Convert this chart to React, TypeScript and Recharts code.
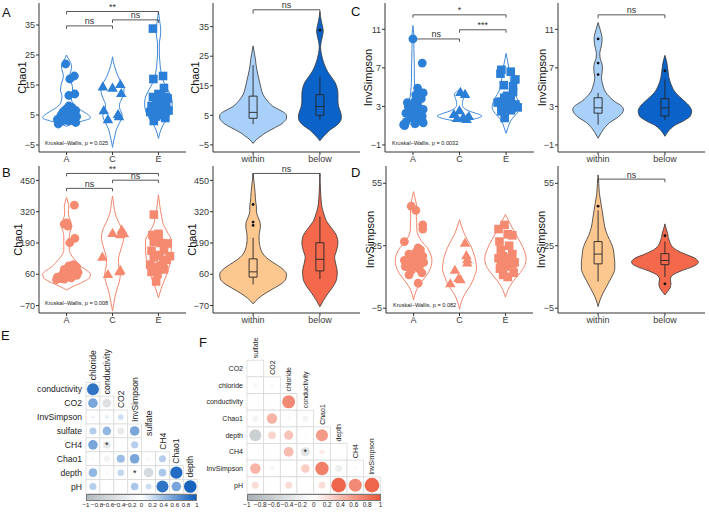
import React from 'react';
import {
  ComposedChart,
  ScatterChart,
  Area,
  Line,
  Scatter,
  XAxis,
  YAxis,
  ReferenceLine,
} from 'recharts';

const FONT = '"Liberation Sans", Arial, Helvetica, sans-serif';

const siteCats = ['A', 'C', 'E'];
const zoneCats = ['within', 'below'];

// ---- Chao1 by site (blue) ----
const chaoSiteA = [22, 18, 17, 12, 11.5, 8, 7.5, 7, 6.8, 6.5, 6, 6, 5.5, 5.2, 5, 5, 4.5, 4.5, 4, 4, 3.8, 3.5, 3.5, 3.2, 3, 3, 2.5, 2];
const chaoSiteAJit = [-0.02, 0.17, 0.07, 0.18, 0.05, 0.05, 0.12, 0.0, -0.02, 0.2, -0.08, 0.1, 0.15, 0.1, 0.03, -0.12, 0.22, 0.08, -0.15, -0.05, 0.12, -0.2, 0.18, 0.0, -0.1, 0.05, 0.2, -0.18];
const chaoSiteC = [15, 14.2, 13.8, 12, 6.3, 5, 4.3, 3.3];
const chaoSiteCJit = [0.17, -0.21, 0.0, 0.19, -0.19, 0.12, 0.14, -0.1];
const chaoSiteE = [33.8, 18, 17, 14, 12, 11.5, 11, 11, 10.5, 10, 9.5, 9, 8.5, 8, 7.5, 7, 6.5, 6, 6, 5.5, 5, 5, 4.5, 4, 3];
const chaoSiteEJit = [-0.12, 0.1, -0.11, 0.12, 0.0, 0.05, -0.12, 0.15, 0.2, -0.05, 0.1, 0.02, 0.17, -0.15, 0.08, -0.08, 0.22, -0.18, 0.05, 0.12, -0.12, 0.0, -0.05, 0.15, -0.1];

const chaoVioALv = [1.2, 2, 3, 4, 5, 6, 7, 8, 9, 10, 11, 12, 13, 14, 15, 16, 17, 18, 19, 20, 21, 22, 23, 24, 25];
const chaoVioAW = [0, 0.12, 0.35, 0.52, 0.48, 0.38, 0.27, 0.18, 0.13, 0.11, 0.1, 0.11, 0.13, 0.13, 0.12, 0.1, 0.08, 0.07, 0.08, 0.1, 0.11, 0.1, 0.07, 0.03, 0];
const chaoVioCLv = [-5.8, -4, -2, 0, 2, 4, 5, 6, 7, 8, 9, 10, 12, 13, 14, 15, 16, 18, 20, 22, 24.4];
const chaoVioCW = [0, 0.02, 0.05, 0.08, 0.14, 0.2, 0.21, 0.19, 0.16, 0.15, 0.16, 0.19, 0.24, 0.25, 0.25, 0.23, 0.19, 0.12, 0.07, 0.03, 0];
const chaoVioELv = [-2.8, -1, 1, 3, 5, 7, 9, 11, 13, 15, 17, 19, 21, 23, 25, 27, 29, 31, 33, 35, 37, 39.5];
const chaoVioEW = [0, 0.03, 0.08, 0.15, 0.24, 0.29, 0.3, 0.28, 0.22, 0.15, 0.09, 0.06, 0.04, 0.03, 0.02, 0.02, 0.02, 0.04, 0.05, 0.04, 0.02, 0];

// ---- Chao1 by zone (blue fills) ----
const chaoWithinLv = [-4.5, -3, -2, -1, 0, 1, 2, 3, 4, 5, 6, 7, 8, 9, 10, 12, 14, 16, 18, 20, 22, 24, 26, 28.5];
const chaoWithinW = [0, 0.06, 0.12, 0.18, 0.26, 0.34, 0.42, 0.47, 0.5, 0.5, 0.46, 0.38, 0.3, 0.25, 0.21, 0.15, 0.12, 0.1, 0.08, 0.06, 0.045, 0.035, 0.02, 0];
const chaoBelowLv = [-3.6, -2, 0, 2, 4, 5, 6, 8, 10, 12, 14, 16, 18, 20, 22, 24, 26, 28, 30, 32, 33.5, 35, 37, 40];
const chaoBelowW = [0, 0.06, 0.15, 0.27, 0.32, 0.32, 0.31, 0.28, 0.27, 0.27, 0.26, 0.23, 0.17, 0.11, 0.07, 0.04, 0.02, 0.01, 0.02, 0.04, 0.05, 0.04, 0.02, 0];
const chaoWithinBox = [2, 4, 6, 11.5, 22];
const chaoBelowBox = [3.3, 5, 8, 12, 18];
const chaoBelowOut = [33.8];

// ---- InvSimpson by site (blue) ----
const invSiteA = [10, 7.5, 4.9, 4.4, 4.2, 3.8, 3.6, 3.4, 3.2, 3.0, 2.9, 2.7, 2.6, 2.5, 2.3, 2.2, 2.0, 1.8, 1.6, 1.5, 1.4, 1.3, 1.2, 1.1, 1.0];
const invSiteAJit = [0.0, 0.2, 0.1, 0.22, 0.06, 0.18, 0.05, -0.12, 0.1, -0.1, 0.0, 0.22, -0.05, 0.15, -0.15, 0.05, 0.2, -0.05, 0.12, 0.2, -0.15, 0.22, 0.05, -0.2, -0.18];
const invSiteC = [4.4, 4.2, 2.5, 2.1, 1.9, 1.8, 1.7, 1.6];
const invSiteCJit = [0.02, 0.12, 0.0, -0.12, 0.2, 0.08, -0.05, 0.15];
const invSiteE = [6.8, 6.6, 6.4, 5.8, 5.2, 5.1, 4.5, 4.1, 3.9, 3.8, 3.5, 3.4, 3.3, 3.2, 3.0, 2.9, 2.8, 2.7, 2.6, 2.5, 1.8];
const invSiteEJit = [-0.1, 0.1, -0.12, 0.2, -0.05, 0.15, 0.15, 0.02, -0.04, 0.1, -0.12, -0.18, 0.05, 0.2, -0.1, 0.25, 0.12, -0.02, 0.1, -0.1, -0.03];

const invVioALv = [0.8, 1.2, 1.6, 2.0, 2.5, 3.0, 3.5, 4.0, 5, 6, 7, 8, 9, 10, 11, 11.4];
const invVioAW = [0, 0.06, 0.12, 0.16, 0.17, 0.14, 0.09, 0.06, 0.04, 0.03, 0.03, 0.025, 0.02, 0.02, 0.01, 0];
const invVioCLv = [1.4, 1.6, 1.8, 2.0, 2.2, 2.5, 2.8, 3.2, 3.6, 4.0, 4.3, 4.5, 4.75];
const invVioCW = [0, 0.22, 0.4, 0.48, 0.4, 0.22, 0.1, 0.06, 0.07, 0.1, 0.11, 0.07, 0];
const invVioELv = [0.2, 0.8, 1.5, 2.0, 2.5, 3.0, 3.5, 4.0, 4.5, 5.0, 5.5, 6.0, 6.5, 7.0, 7.5, 8.0, 8.5];
const invVioEW = [0, 0.04, 0.1, 0.18, 0.27, 0.3, 0.27, 0.22, 0.16, 0.12, 0.1, 0.09, 0.08, 0.06, 0.04, 0.02, 0];

// ---- InvSimpson by zone (blue fills) ----
const invWithinLv = [-0.3, 0.3, 0.8, 1.3, 1.8, 2.3, 2.7, 3.1, 3.5, 4.0, 4.5, 5.0, 5.5, 6.0, 6.5, 7.0, 7.5, 8.0, 8.5, 9.0, 9.5, 10.0, 10.5, 11.0, 11.7];
const invWithinW = [0, 0.05, 0.1, 0.17, 0.28, 0.36, 0.38, 0.34, 0.25, 0.17, 0.11, 0.08, 0.06, 0.05, 0.06, 0.065, 0.055, 0.03, 0.025, 0.04, 0.055, 0.06, 0.05, 0.03, 0];
const invBelowLv = [-0.1, 0.5, 1.0, 1.5, 2.0, 2.5, 3.0, 3.5, 4.0, 4.5, 5.0, 5.5, 6.0, 6.5, 7.0, 7.5, 8.3];
const invBelowW = [0, 0.06, 0.14, 0.28, 0.38, 0.4, 0.37, 0.3, 0.22, 0.15, 0.11, 0.08, 0.06, 0.05, 0.04, 0.03, 0];
const invWithinBox = [1.1, 2.3, 2.85, 3.9, 4.4];
const invWithinOut = [10, 7.5, 6.3];
const invBelowBox = [1.6, 2.0, 2.85, 3.8, 5.8];
const invBelowOut = [6.7];

// ---- Chao1 by site (orange) ----
const chaoSiteA2 = [347, 274, 268, 260, 209, 191, 100, 95, 90, 85, 80, 75, 72, 70, 68, 65, 62, 60, 58, 55, 52, 50, 48, 45, 42, 40, 38];
const chaoSiteA2Jit = [0.17, 0.0, -0.05, 0.03, 0.18, 0.07, 0.15, 0.05, 0.22, 0.1, -0.05, 0.2, 0.08, 0.0, 0.25, 0.12, -0.08, 0.18, 0.05, 0.22, -0.12, 0.0, -0.2, 0.1, -0.15, -0.05, -0.22];
const chaoSiteC2 = [242, 228, 226, 222, 129, 74, 68, 57];
const chaoSiteC2Jit = [0.2, 0.0, 0.25, 0.17, -0.22, 0.17, 0.15, -0.1];
const chaoSiteE2 = [308, 228, 223, 220, 195, 190, 188, 185, 160, 158, 140, 135, 130, 120, 110, 100, 95, 90, 80, 70, 60, 30];
const chaoSiteE2Jit = [-0.1, 0.0, -0.13, 0.0, -0.1, 0.05, 0.2, 0.13, 0.12, -0.15, 0.02, 0.25, -0.1, 0.18, 0.1, -0.18, 0.05, -0.08, 0.12, -0.15, -0.02, -0.05];

const chaoVioA2Lv = [-5, 10, 30, 45, 60, 75, 90, 105, 120, 140, 160, 180, 200, 220, 240, 260, 280, 300, 320, 340, 360, 380];
const chaoVioA2W = [0, 0.15, 0.38, 0.5, 0.52, 0.45, 0.33, 0.25, 0.18, 0.1, 0.06, 0.06, 0.06, 0.06, 0.08, 0.11, 0.09, 0.05, 0.04, 0.05, 0.03, 0];
const chaoVioC2Lv = [-92, -60, -30, 0, 30, 60, 90, 120, 150, 180, 210, 240, 270, 300, 330, 360, 385];
const chaoVioC2W = [0, 0.03, 0.06, 0.1, 0.15, 0.17, 0.14, 0.13, 0.16, 0.21, 0.24, 0.22, 0.15, 0.08, 0.04, 0.02, 0];
const chaoVioE2Lv = [-37, 0, 40, 80, 120, 160, 200, 240, 270, 300, 330, 360, 390];
const chaoVioE2W = [0, 0.06, 0.14, 0.22, 0.26, 0.28, 0.28, 0.18, 0.1, 0.07, 0.04, 0.02, 0];

// ---- Chao1 by zone (orange fills) ----
const chaoWithin2Lv = [-63, -40, -20, 0, 20, 40, 60, 80, 100, 120, 140, 160, 180, 200, 220, 240, 260, 280, 300, 320, 340, 360, 400, 440, 480];
const chaoWithin2W = [0, 0.08, 0.18, 0.3, 0.42, 0.49, 0.5, 0.45, 0.35, 0.24, 0.16, 0.12, 0.1, 0.09, 0.09, 0.1, 0.11, 0.1, 0.07, 0.05, 0.05, 0.04, 0.03, 0.015, 0];
const chaoBelow2Lv = [-75, -50, -20, 10, 40, 70, 100, 130, 160, 190, 220, 250, 280, 310, 340, 380, 440, 480];
const chaoBelow2W = [0, 0.05, 0.12, 0.2, 0.25, 0.26, 0.24, 0.22, 0.25, 0.27, 0.25, 0.18, 0.1, 0.06, 0.03, 0.015, 0.005, 0];
const chaoWithin2Box = [18, 48, 70, 124, 212];
const chaoWithin2Out = [350, 277, 263];
const chaoBelow2Box = [40, 74, 122, 191, 300];

// ---- InvSimpson by site (orange) ----
const invSiteA2 = [44, 42, 35, 33, 27, 24, 23, 22, 21, 20, 20, 19, 18, 18, 17, 16, 16, 15, 15, 14, 13, 12, 11, 7];
const invSiteA2Jit = [-0.05, 0.05, 0.2, 0.2, -0.2, 0.1, 0.15, 0.05, -0.1, 0.2, -0.05, 0.1, -0.2, 0.0, 0.22, 0.15, -0.12, 0.05, -0.18, 0.12, -0.05, 0.18, -0.1, 0.1];
const invSiteC2 = [26, 20, 18, 16.5, 13, 9, 8.5, 6.5];
const invSiteC2Jit = [0.12, 0.15, 0.17, 0.17, -0.1, -0.02, 0.02, -0.2];
const invSiteE2 = [35, 33, 30.5, 30, 27, 25, 23, 21, 20, 19, 19, 18, 17, 16.5, 16, 15, 14, 12, 11, 10];
const invSiteE2Jit = [-0.02, -0.15, 0.05, 0.15, -0.13, 0.08, -0.1, 0.15, -0.05, 0.12, -0.15, 0.02, 0.2, -0.1, 0.15, 0.0, -0.12, 0.18, -0.05, 0.05];

const invVioA2Lv = [-1, 3, 6, 9, 12, 15, 18, 21, 24, 27, 30, 33, 36, 39, 42, 45, 48, 51];
const invVioA2W = [0, 0.05, 0.12, 0.22, 0.32, 0.38, 0.4, 0.37, 0.3, 0.18, 0.1, 0.07, 0.07, 0.06, 0.07, 0.06, 0.03, 0];
const invVioC2Lv = [-5.5, -2, 2, 6, 10, 14, 18, 22, 26, 30, 34, 37.5];
const invVioC2W = [0, 0.04, 0.12, 0.24, 0.32, 0.37, 0.35, 0.3, 0.22, 0.12, 0.05, 0];
const invVioE2Lv = [0.3, 4, 8, 12, 16, 19, 22, 26, 30, 34, 37, 40];
const invVioE2W = [0, 0.06, 0.17, 0.32, 0.43, 0.45, 0.42, 0.34, 0.24, 0.14, 0.07, 0];

// ---- InvSimpson by zone (orange fills) ----
const invWithin2Lv = [-4.2, -1, 2, 5, 8, 11, 14, 17, 20, 23, 26, 30, 34, 38, 42, 46, 50, 55, 59];
const invWithin2W = [0, 0.03, 0.07, 0.12, 0.17, 0.22, 0.25, 0.25, 0.24, 0.23, 0.2, 0.14, 0.1, 0.08, 0.06, 0.04, 0.02, 0.01, 0];
const invBelow2Lv = [1.4, 3, 5, 7, 9, 11, 13, 15, 17, 19, 21, 23, 25, 27, 29, 31, 33, 35.5];
const invBelow2W = [0, 0.04, 0.08, 0.09, 0.08, 0.12, 0.25, 0.42, 0.5, 0.45, 0.3, 0.17, 0.1, 0.07, 0.05, 0.04, 0.02, 0];
const invWithin2Box = [7.8, 16.3, 21, 27, 42];
const invWithin2Out = [44];
const invBelow2Box = [10, 15.9, 17.9, 21.2, 27];
const invBelow2Out = [29.8, 6.7];

// ---- correlograms ----
const corrRowsE = ['conductivity', 'CO2', 'InvSimpson', 'sulfate', 'CH4', 'Chao1', 'depth', 'pH'];
const corrColsE = ['chloride', 'conductivity', 'CO2', 'InvSimpson', 'sulfate', 'CH4', 'Chao1', 'depth'];
const corrValsE = [
  [0.85],
  [0.55, -0.45],
  [0.08, 0.1, 0.2],
  [0.3, 0.45, -0.3, 0.55],
  [0.55, -0.35, 0, 0.3],
  [0.05, -0.2, 0.4, 0.55, -0.1, 0.3],
  [0.45, 0.05, 0.25, 0.02, -0.55, 0.35, 0.9],
  [0.3, 0, 0, 0.35, 0.2, 0.85, 0.55, 0.95],
];
const corrStarsE = [[4, 1], [6, 3]];

const corrRowsF = ['CO2', 'chloride', 'conductivity', 'Chao1', 'depth', 'CH4', 'InvSimpson', 'pH'];
const corrColsF = ['sulfate', 'CO2', 'chloride', 'conductivity', 'Chao1', 'depth', 'CH4', 'InvSimpson'];
const corrValsF = [
  [0],
  [-0.1, 0.05],
  [0, 0, 0.7],
  [-0.15, 0.45, 0.05, -0.15],
  [-0.6, 0.25, 0.35, 0.03, 0.6],
  [0, 0, 0.4, -0.35, 0.12, 0],
  [0.45, -0.1, 0.02, 0.3, 0.75, -0.2, -0.08],
  [0.2, 0, 0.2, 0, 0.2, 0.9, 0.7, 0.9],
];
const corrStarsF = [[5, 3]];
const corrTicks = ['−1', '−0.8', '−0.6', '−0.4', '−0.2', '0', '0.2', '0.4', '0.6', '0.8', '1'];

// ---- colours ----
const BLUE_LINE = '#4189d9';
const BLUE_PT = '#2c7fd6';
const ORANGE_LINE = '#f3866c';
const ORANGE_PT = '#f58a70';
const LIGHT_BLUE = '#a8d0f8';
const DARK_BLUE = '#0b62c8';
const LIGHT_ORANGE = '#fdc790';
const RED_ORANGE = '#f4694b';

const minus = (v: number) => String(v).replace('-', '−');

type Violin = { at: number; lv: number[]; w: number[]; fill?: string; stroke: string; sw: number };
type Box = { at: number; stats: number[]; out?: number[] };
type Pts = { at: number; vals: number[]; jit: number[]; shape: string; color: string };
type Bracket = { from: number; to: number; y: number; tip: number; text: string };

function Marker(props: any) {
  const { cx, cy, fill, kind } = props;
  if (cx == null || cy == null) return null;
  if (kind === 'triangle') {
    const s = 10.5;
    const h = (s * Math.sqrt(3)) / 2;
    return <polygon points={`${cx},${cy - (2 * h) / 3} ${cx - s / 2},${cy + h / 3} ${cx + s / 2},${cy + h / 3}`} fill={fill} />;
  }
  if (kind === 'square') {
    return <rect x={cx - 4.3} y={cy - 4.3} width={8.6} height={8.6} fill={fill} />;
  }
  return <circle cx={cx} cy={cy} r={4.4} fill={fill} />;
}

type PanelProps = {
  left: number; top: number; width: number; height: number;
  margin: { top: number; right: number };
  yAxisWidth: number; xAxisHeight: number;
  cats: string[]; domain: number[]; ticks: number[];
  yLabel: string; labelX: number;
  violins: Violin[]; boxes?: Box[]; points?: Pts[]; brackets?: Bracket[];
};

function ViolinPanel({ left, top, width, height, margin, yAxisWidth, xAxisHeight, cats, domain, ticks, yLabel, labelX, violins, boxes = [], points = [], brackets = [] }: PanelProps) {
  const rows: Record<string, any>[] = [];
  violins.forEach((vn, k) => {
    vn.lv.forEach((v, i) => {
      rows.push({ v, [`vio${k}`]: [vn.at - vn.w[i], vn.at + vn.w[i]], [`vl${k}`]: vn.at - vn.w[i], [`vr${k}`]: vn.at + vn.w[i] });
    });
  });
  const bw = 0.06;
  boxes.forEach((b, k) => {
    const [lo, q1, md, q3, hi] = b.stats;
    const l = b.at - bw;
    const r = b.at + bw;
    [[q1, l], [q3, l], [q3, r], [q1, r], [q1, l]].forEach(([v, x]) => rows.push({ v, [`box${k}`]: x }));
    [[lo, b.at], [q1, b.at]].forEach(([v, x]) => rows.push({ v, [`wlo${k}`]: x }));
    [[q3, b.at], [hi, b.at]].forEach(([v, x]) => rows.push({ v, [`whi${k}`]: x }));
    [[md, l], [md, r]].forEach(([v, x]) => rows.push({ v, [`med${k}`]: x }));
  });
  const outliers = boxes.flatMap((b) => (b.out || []).map((v) => ({ x: b.at, v })));
  const n = cats.length;
  const axisColor = '#333';
  const tickStyle = { fill: '#3a3a3a', fontSize: 9, fontFamily: FONT };

  return (
    <div style={{ position: 'absolute', left, top }}>
      <ComposedChart width={width} height={height} data={rows} layout="vertical" margin={{ top: margin.top, right: margin.right, bottom: 0, left: 0 }}>
        <XAxis
          type="number"
          domain={[0.4, n + 0.6]}
          ticks={cats.map((_, i) => i + 1)}
          tickFormatter={(i: number) => cats[i - 1]}
          allowDataOverflow
          interval={0}
          height={xAxisHeight}
          tickSize={3}
          tickMargin={1}
          stroke={axisColor}
          tick={tickStyle}
        />
        <YAxis
          type="number"
          dataKey="v"
          domain={domain}
          ticks={ticks}
          reversed
          allowDataOverflow
          interval={0}
          width={yAxisWidth}
          tickSize={3}
          tickMargin={1}
          stroke={axisColor}
          tick={tickStyle}
          tickFormatter={minus}
          label={{ value: yLabel, angle: -90, position: 'insideLeft', offset: labelX, fontSize: 11, fill: '#111', style: { textAnchor: 'middle', fontFamily: FONT } }}
        />
        {violins.map((vn, k) =>
          vn.fill ? (
            <Area key={`a${k}`} dataKey={`vio${k}`} type="monotone" fill={vn.fill} fillOpacity={1} stroke="none" isAnimationActive={false} dot={false} activeDot={false} />
          ) : null,
        )}
        {violins.map((vn, k) => (
          <Line key={`l${k}`} dataKey={`vl${k}`} type="monotone" stroke={vn.stroke} strokeWidth={vn.sw} dot={false} activeDot={false} isAnimationActive={false} />
        ))}
        {violins.map((vn, k) => (
          <Line key={`r${k}`} dataKey={`vr${k}`} type="monotone" stroke={vn.stroke} strokeWidth={vn.sw} dot={false} activeDot={false} isAnimationActive={false} />
        ))}
        {boxes.flatMap((_, k) =>
          ['box', 'wlo', 'whi', 'med'].map((p) => (
            <Line key={`${p}${k}`} dataKey={`${p}${k}`} type="linear" stroke="#262626" strokeWidth={0.9} dot={false} activeDot={false} isAnimationActive={false} />
          )),
        )}
        {brackets.flatMap((b, k) => [
          <ReferenceLine key={`bh${k}`} segment={[{ x: b.from, y: b.y }, { x: b.to, y: b.y }]} stroke="#444" strokeWidth={0.9} ifOverflow="visible"
            label={{ value: b.text, position: 'top', offset: 1.5, fontSize: 9, fill: '#333', fontFamily: FONT }} />,
          <ReferenceLine key={`bl${k}`} segment={[{ x: b.from, y: b.y }, { x: b.from, y: b.y - b.tip }]} stroke="#444" strokeWidth={0.9} ifOverflow="visible" />,
          <ReferenceLine key={`br${k}`} segment={[{ x: b.to, y: b.y }, { x: b.to, y: b.y - b.tip }]} stroke="#444" strokeWidth={0.9} ifOverflow="visible" />,
        ])}
        {points.map((p, k) => (
          <Scatter
            key={`p${k}`}
            data={p.vals.map((v, i) => ({ x: p.at + p.jit[i], v }))}
            dataKey="x"
            fill={p.color}
            isAnimationActive={false}
            shape={(sp: any) => <Marker {...sp} kind={p.shape} fill={p.color} />}
          />
        ))}
        {outliers.length > 0 && (
          <Scatter
            data={outliers}
            dataKey="x"
            fill="#111"
            isAnimationActive={false}
            shape={(sp: any) => <circle cx={sp.cx} cy={sp.cy} r={1.4} fill="#111" />}
          />
        )}
      </ComposedChart>
    </div>
  );
}

// mix two hex colours
function mix(a: string, b: string, t: number) {
  const pa = [1, 3, 5].map((i) => parseInt(a.slice(i, i + 2), 16));
  const pb = [1, 3, 5].map((i) => parseInt(b.slice(i, i + 2), 16));
  const c = pa.map((x, i) => Math.round(x + (pb[i] - x) * t));
  return `rgb(${c[0]},${c[1]},${c[2]})`;
}

type CorrProps = {
  left: number; top: number; width: number; height: number;
  yAxisWidth: number; mTop: number; mRight: number; mBottom: number;
  rows: string[]; cols: string[]; vals: number[][]; stars: number[][];
  cell: number; pos: string; neg: string; rowFont: number; colFont: number;
};

function Corrgram({ left, top, width, height, yAxisWidth, mTop, mRight, mBottom, rows, cols, vals, stars, cell, pos, neg, rowFont, colFont }: CorrProps) {
  const cells = vals.flatMap((row, i) =>
    row.map((val, j) => ({ c: j, r: i, val, star: stars.some(([a, b]) => a === i && b === j) })),
  );
  const heads = cols.map((name, j) => ({ c: j, r: j - 0.5, name }));
  const colour = (v: number) => (v >= 0 ? mix('#ffffff', pos, v) : mix('#ffffff', neg, -v));
  const half = cell / 2;

  const CellShape = (p: any) => {
    const { cx, cy, payload } = p;
    const rad = Math.sqrt(Math.abs(payload.val)) * half * 0.93;
    return (
      <g>
        <rect x={cx - half} y={cy - half} width={cell} height={cell} fill="#fff" stroke="#d9d9d9" strokeWidth={0.8} />
        {rad > 0.3 && <circle cx={cx} cy={cy} r={rad} fill={colour(payload.val)} />}
        {payload.star && (
          <text x={cx} y={cy + 3.2} textAnchor="middle" fontSize={9} fill="#111" fontFamily={FONT}>*</text>
        )}
      </g>
    );
  };
  const HeadShape = (p: any) => (
    <text transform={`translate(${p.cx + colFont * 0.36},${p.cy - 2}) rotate(-90)`} fontSize={colFont} fill="#222" fontFamily={FONT}>
      {p.payload.name}
    </text>
  );

  return (
    <div style={{ position: 'absolute', left, top }}>
      <ScatterChart width={width} height={height} margin={{ top: mTop, right: mRight, bottom: mBottom, left: 0 }}>
        <XAxis type="number" dataKey="c" domain={[-0.5, cols.length - 0.5]} hide />
        <YAxis
          type="number"
          dataKey="r"
          domain={[-0.5, rows.length - 0.5]}
          reversed
          ticks={rows.map((_, i) => i)}
          tickFormatter={(i: number) => rows[i]}
          interval={0}
          width={yAxisWidth}
          axisLine={false}
          tickLine={false}
          tickSize={0}
          tickMargin={4}
          tick={{ fill: '#222', fontSize: rowFont, fontFamily: FONT }}
        />
        <Scatter data={cells} isAnimationActive={false} shape={CellShape} />
        <Scatter data={heads} isAnimationActive={false} shape={HeadShape} />
      </ScatterChart>
    </div>
  );
}

function ColourBar({ left, top, width, neg, pos, font }: { left: number; top: number; width: number; neg: string; pos: string; font: number }) {
  return (
    <div style={{ position: 'absolute', left, top, width }}>
      <div style={{ height: 5, border: '0.5px solid #777', background: `linear-gradient(to right, ${neg}, #ffffff, ${pos})` }} />
      {corrTicks.map((t, i) => (
        <span
          key={t}
          style={{ position: 'absolute', top: 7, left: (width * i) / 10, transform: 'translateX(-50%)', fontSize: font, color: '#222', whiteSpace: 'nowrap' }}
        >
          {t}
        </span>
      ))}
    </div>
  );
}

const Letter = ({ x, y, t }: { x: number; y: number; t: string }) => (
  <div style={{ position: 'absolute', left: x, top: y, fontSize: 13, color: '#111', lineHeight: 1 }}>{t}</div>
);

const Note = ({ x, y, t }: { x: number; y: number; t: string }) => (
  <div style={{ position: 'absolute', left: x, top: y, fontSize: 5.6, color: '#222', whiteSpace: 'nowrap', lineHeight: 1 }}>{t}</div>
);

export default function App() {
  const row1 = { top: 0, height: 168, xAxisHeight: 16, margin: { top: 3, right: 4 } };
  const row2 = { top: 163, height: 168, xAxisHeight: 18, margin: { top: 3, right: 4 } };

  return (
    <div style={{ position: 'absolute', left: 0, top: 0, width: 709, height: 513, background: '#fff', fontFamily: FONT, overflow: 'hidden' }}>
      <ViolinPanel
        left={0} top={row1.top} width={190} height={row1.height} margin={row1.margin} yAxisWidth={39} xAxisHeight={row1.xAxisHeight}
        cats={siteCats} domain={[-7.33, 42.33]} ticks={[-5, 5, 15, 25, 35]} yLabel="Chao1" labelX={22}
        violins={[
          { at: 1, lv: chaoVioALv, w: chaoVioAW, stroke: BLUE_LINE, sw: 1 },
          { at: 2, lv: chaoVioCLv, w: chaoVioCW, stroke: BLUE_LINE, sw: 1 },
          { at: 3, lv: chaoVioELv, w: chaoVioEW, stroke: BLUE_LINE, sw: 1 },
        ]}
        points={[
          { at: 1, vals: chaoSiteA, jit: chaoSiteAJit, shape: 'circle', color: BLUE_PT },
          { at: 2, vals: chaoSiteC, jit: chaoSiteCJit, shape: 'triangle', color: BLUE_PT },
          { at: 3, vals: chaoSiteE, jit: chaoSiteEJit, shape: 'square', color: BLUE_PT },
        ]}
        brackets={[
          { from: 1, to: 2, y: 34.7, tip: 1, text: 'ns' },
          { from: 2, to: 3, y: 36.7, tip: 1, text: 'ns' },
          { from: 1, to: 3, y: 39.5, tip: 1, text: '**' },
        ]}
      />
      <ViolinPanel
        left={175} top={row1.top} width={190} height={row1.height} margin={{ top: 3, right: 5 }} yAxisWidth={38} xAxisHeight={row1.xAxisHeight}
        cats={zoneCats} domain={[-7.4, 43]} ticks={[-5, 5, 15, 25, 35]} yLabel="Chao1" labelX={20.5}
        violins={[
          { at: 1, lv: chaoWithinLv, w: chaoWithinW, fill: LIGHT_BLUE, stroke: '#333', sw: 0.8 },
          { at: 2, lv: chaoBelowLv, w: chaoBelowW, fill: DARK_BLUE, stroke: '#333', sw: 0.8 },
        ]}
        boxes={[
          { at: 1, stats: chaoWithinBox },
          { at: 2, stats: chaoBelowBox, out: chaoBelowOut },
        ]}
        brackets={[{ from: 1, to: 2, y: 40.7, tip: 1.3, text: 'ns' }]}
      />
      <ViolinPanel
        left={346} top={row1.top} width={192} height={row1.height} margin={{ top: 3, right: 4 }} yAxisWidth={39} xAxisHeight={row1.xAxisHeight}
        cats={siteCats} domain={[-1.73, 13.73]} ticks={[-1, 3, 7, 11]} yLabel="InvSimpson" labelX={22}
        violins={[
          { at: 1, lv: invVioALv, w: invVioAW, stroke: BLUE_LINE, sw: 1 },
          { at: 2, lv: invVioCLv, w: invVioCW, stroke: BLUE_LINE, sw: 1 },
          { at: 3, lv: invVioELv, w: invVioEW, stroke: BLUE_LINE, sw: 1 },
        ]}
        points={[
          { at: 1, vals: invSiteA, jit: invSiteAJit, shape: 'circle', color: BLUE_PT },
          { at: 2, vals: invSiteC, jit: invSiteCJit, shape: 'triangle', color: BLUE_PT },
          { at: 3, vals: invSiteE, jit: invSiteEJit, shape: 'square', color: BLUE_PT },
        ]}
        brackets={[
          { from: 1, to: 2, y: 10.0, tip: 0.3, text: 'ns' },
          { from: 2, to: 3, y: 10.95, tip: 0.3, text: '***' },
          { from: 1, to: 3, y: 12.5, tip: 0.3, text: '*' },
        ]}
      />
      <ViolinPanel
        left={518} top={row1.top} width={190} height={row1.height} margin={{ top: 3, right: 3 }} yAxisWidth={40} xAxisHeight={row1.xAxisHeight}
        cats={zoneCats} domain={[-1.73, 13.73]} ticks={[-1, 3, 7, 11]} yLabel="InvSimpson" labelX={24}
        violins={[
          { at: 1, lv: invWithinLv, w: invWithinW, fill: LIGHT_BLUE, stroke: '#333', sw: 0.8 },
          { at: 2, lv: invBelowLv, w: invBelowW, fill: DARK_BLUE, stroke: '#333', sw: 0.8 },
        ]}
        boxes={[
          { at: 1, stats: invWithinBox, out: invWithinOut },
          { at: 2, stats: invBelowBox, out: invBelowOut },
        ]}
        brackets={[{ from: 1, to: 2, y: 12.5, tip: 0.35, text: 'ns' }]}
      />

      <ViolinPanel
        left={0} top={row2.top} width={190} height={row2.height} margin={row2.margin} yAxisWidth={39} xAxisHeight={row2.xAxisHeight}
        cats={siteCats} domain={[-101, 510]} ticks={[-70, 60, 190, 320, 450]} yLabel="Chao1" labelX={18.5}
        violins={[
          { at: 1, lv: chaoVioA2Lv, w: chaoVioA2W, stroke: ORANGE_LINE, sw: 1 },
          { at: 2, lv: chaoVioC2Lv, w: chaoVioC2W, stroke: ORANGE_LINE, sw: 1 },
          { at: 3, lv: chaoVioE2Lv, w: chaoVioE2W, stroke: ORANGE_LINE, sw: 1 },
        ]}
        points={[
          { at: 1, vals: chaoSiteA2, jit: chaoSiteA2Jit, shape: 'circle', color: ORANGE_PT },
          { at: 2, vals: chaoSiteC2, jit: chaoSiteC2Jit, shape: 'triangle', color: ORANGE_PT },
          { at: 3, vals: chaoSiteE2, jit: chaoSiteE2Jit, shape: 'square', color: ORANGE_PT },
        ]}
        brackets={[
          { from: 1, to: 2, y: 417, tip: 12, text: 'ns' },
          { from: 2, to: 3, y: 451, tip: 12, text: 'ns' },
          { from: 1, to: 3, y: 479, tip: 12, text: '**' },
        ]}
      />
      <ViolinPanel
        left={175} top={row2.top} width={190} height={row2.height} margin={{ top: 3, right: 5 }} yAxisWidth={38} xAxisHeight={row2.xAxisHeight}
        cats={zoneCats} domain={[-101, 510]} ticks={[-70, 60, 190, 320, 450]} yLabel="Chao1" labelX={17.5}
        violins={[
          { at: 1, lv: chaoWithin2Lv, w: chaoWithin2W, fill: LIGHT_ORANGE, stroke: '#333', sw: 0.8 },
          { at: 2, lv: chaoBelow2Lv, w: chaoBelow2W, fill: RED_ORANGE, stroke: '#333', sw: 0.8 },
        ]}
        boxes={[
          { at: 1, stats: chaoWithin2Box, out: chaoWithin2Out },
          { at: 2, stats: chaoBelow2Box },
        ]}
        brackets={[{ from: 1, to: 2, y: 479, tip: 14, text: 'ns' }]}
      />
      <ViolinPanel
        left={347} top={row2.top} width={190} height={row2.height} margin={{ top: 3, right: 4 }} yAxisWidth={39} xAxisHeight={row2.xAxisHeight}
        cats={siteCats} domain={[-7.3, 63.3]} ticks={[-5, 25, 55]} yLabel="InvSimpson" labelX={23.5}
        violins={[
          { at: 1, lv: invVioA2Lv, w: invVioA2W, stroke: ORANGE_LINE, sw: 1 },
          { at: 2, lv: invVioC2Lv, w: invVioC2W, stroke: ORANGE_LINE, sw: 1 },
          { at: 3, lv: invVioE2Lv, w: invVioE2W, stroke: ORANGE_LINE, sw: 1 },
        ]}
        points={[
          { at: 1, vals: invSiteA2, jit: invSiteA2Jit, shape: 'circle', color: ORANGE_PT },
          { at: 2, vals: invSiteC2, jit: invSiteC2Jit, shape: 'triangle', color: ORANGE_PT },
          { at: 3, vals: invSiteE2, jit: invSiteE2Jit, shape: 'square', color: ORANGE_PT },
        ]}
      />
      <ViolinPanel
        left={518} top={row2.top} width={190} height={row2.height} margin={{ top: 3, right: 3 }} yAxisWidth={40} xAxisHeight={row2.xAxisHeight}
        cats={zoneCats} domain={[-7.3, 63.3]} ticks={[-5, 25, 55]} yLabel="InvSimpson" labelX={23.5}
        violins={[
          { at: 1, lv: invWithin2Lv, w: invWithin2W, fill: LIGHT_ORANGE, stroke: '#333', sw: 0.8 },
          { at: 2, lv: invBelow2Lv, w: invBelow2W, fill: RED_ORANGE, stroke: '#333', sw: 0.8 },
        ]}
        boxes={[
          { at: 1, stats: invWithin2Box, out: invWithin2Out },
          { at: 2, stats: invBelow2Box, out: invBelow2Out },
        ]}
        brackets={[{ from: 1, to: 2, y: 57, tip: 1.5, text: 'ns' }]}
      />

      <Corrgram
        left={0} top={330} width={200} height={183} yAxisWidth={86} mTop={52.3} mRight={2.8} mBottom={19.5}
        rows={corrRowsE} cols={corrColsE} vals={corrValsE} stars={corrStarsE} cell={13.9}
        pos="#0b5cbc" neg="#b3bcc1" rowFont={8.6} colFont={8.6}
      />
      <ColourBar left={86} top={494} width={111} neg="#b3bcc1" pos="#0b5cbc" font={6.1} />
      <Corrgram
        left={180} top={330} width={205} height={183} yAxisWidth={67} mTop={30.2} mRight={4.7} mBottom={19.5}
        rows={corrRowsF} cols={corrColsF} vals={corrValsF} stars={corrStarsF} cell={16.67}
        pos="#ec5639" neg="#a9b2b6" rowFont={7} colFont={7}
      />
      <ColourBar left={247} top={494} width={133.5} neg="#a9b2b6" pos="#ec5639" font={6.4} />

      <Letter x={2} y={6} t="A" />
      <Letter x={2} y={166} t="B" />
      <Letter x={351} y={5} t="C" />
      <Letter x={351} y={166} t="D" />
      <Letter x={1} y={329} t="E" />
      <Letter x={199} y={336} t="F" />

      <Note x={45} y={141} t="Kruskal−Wallis, p = 0.025" />
      <Note x={45} y={301} t="Kruskal−Wallis, p = 0.008" />
      <Note x={392} y={141} t="Kruskal−Wallis, p = 0.0032" />
      <Note x={393} y={303} t="Kruskal−Wallis, p = 0.082" />
    </div>
  );
}
